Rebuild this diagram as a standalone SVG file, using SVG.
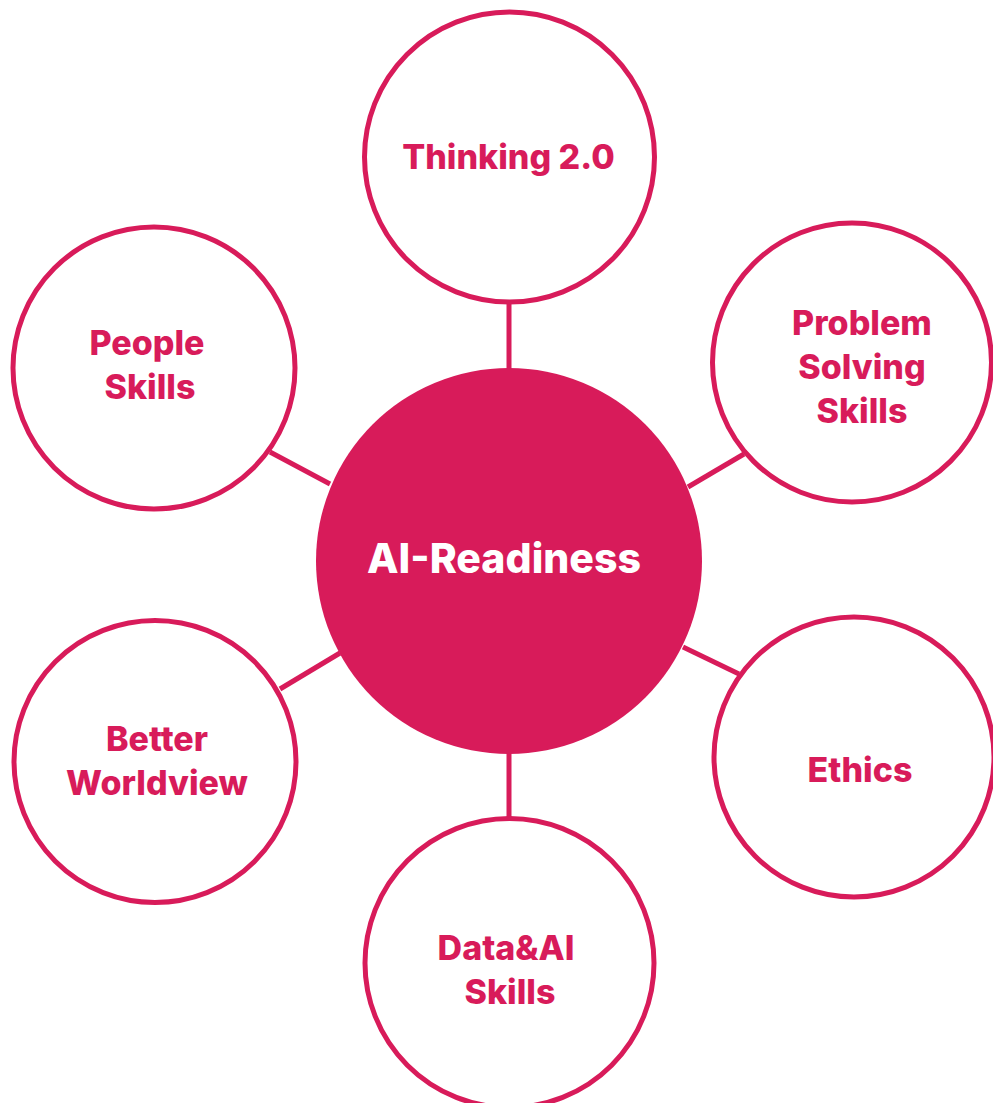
<svg xmlns="http://www.w3.org/2000/svg" width="993" height="1103" viewBox="0 0 993 1103">
<style>
.ring{fill:#ffffff;stroke:#D81B5A;stroke-width:5}
.lbl{font-family:Inter,"Open Sans","Liberation Sans",sans-serif;font-weight:800;font-size:34px;fill:#D81B5A;text-anchor:middle}
.ctr{font-family:Inter,"Open Sans","Liberation Sans",sans-serif;font-weight:800;font-size:41px;fill:#ffffff;text-anchor:middle}
.con{stroke:#D81B5A;stroke-width:5;fill:none}
</style>
<rect width="993" height="1103" fill="#ffffff"/>
<g id="connectors">
<line class="con" x1="509" y1="302" x2="509" y2="370"/>
<line class="con" x1="509" y1="752" x2="509" y2="820"/>
<line class="con" x1="688" y1="487" x2="744" y2="454"/>
<line class="con" x1="330" y1="484" x2="270" y2="452"/>
<line class="con" x1="340" y1="653" x2="280" y2="689"/>
<line class="con" x1="683" y1="647" x2="739" y2="674"/>
</g>
<g id="center">
<circle cx="509" cy="561" r="193" fill="#D81B5A"/>
<text class="ctr" x="504" y="573">AI-Readiness</text>
</g>
<g id="thinking">
<circle class="ring" cx="509.5" cy="157" r="145"/>
<text class="lbl" x="508.5" y="169">Thinking 2.0</text>
</g>
<g id="problem">
<circle class="ring" cx="852" cy="362.5" r="139.5"/>
<text class="lbl" x="862" y="335">Problem</text>
<text class="lbl" x="862" y="379">Solving</text>
<text class="lbl" x="862" y="423">Skills</text>
</g>
<g id="people">
<circle class="ring" cx="154" cy="368" r="141"/>
<text class="lbl" x="147" y="355">People</text>
<text class="lbl" x="150" y="399">Skills</text>
</g>
<g id="worldview">
<circle class="ring" cx="155" cy="761.5" r="141"/>
<text class="lbl" x="157" y="751">Better</text>
<text class="lbl" x="157" y="795">Worldview</text>
</g>
<g id="ethics">
<circle class="ring" cx="854" cy="757" r="140"/>
<text class="lbl" x="860" y="782">Ethics</text>
</g>
<g id="dataai">
<circle class="ring" cx="509.5" cy="963" r="144.5"/>
<text class="lbl" x="506" y="960">Data&amp;AI</text>
<text class="lbl" x="510" y="1004">Skills</text>
</g>
</svg>
